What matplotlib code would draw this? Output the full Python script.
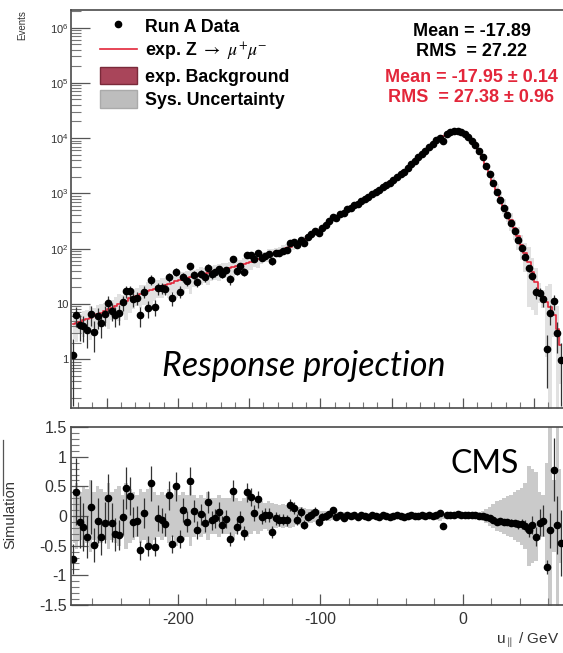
import numpy as np
import matplotlib
matplotlib.use("Agg")
import matplotlib.pyplot as plt
from matplotlib.lines import Line2D
from matplotlib.patches import Patch
from matplotlib.ticker import FixedLocator, FixedFormatter, MultipleLocator, LogLocator, NullFormatter

plt.rcParams['font.family'] = ['Liberation Sans', 'DejaVu Sans']
plt.rcParams['mathtext.fontset'] = 'stix'

# u_par bins: 2.5 GeV wide, from -275 to 70 GeV
bin_lo = -275.0
bin_w = 2.5

# expected Z->mumu (log10 of events per bin)
mc_log10 = [
    0.63, 0.65, 0.67, 0.70, 0.72, 0.75, 0.78, 0.81, 0.84, 0.87,
    0.90, 0.93, 0.96, 1.00, 1.03, 1.06, 1.10, 1.13, 1.15, 1.18,
    1.20, 1.23, 1.25, 1.27, 1.30, 1.32, 1.34, 1.36, 1.38, 1.41,
    1.43, 1.44, 1.46, 1.48, 1.49, 1.51, 1.53, 1.54, 1.56, 1.57,
    1.59, 1.60, 1.62, 1.63, 1.65, 1.66, 1.68, 1.70, 1.72, 1.74,
    1.76, 1.79, 1.81, 1.84, 1.86, 1.89, 1.91, 1.94, 1.96, 1.98,
    2.01, 2.03, 2.06, 2.10, 2.13, 2.17, 2.22, 2.25, 2.29, 2.33,
    2.38, 2.43, 2.48, 2.53, 2.57, 2.62, 2.66, 2.70, 2.74, 2.78,
    2.82, 2.86, 2.90, 2.94, 2.99, 3.03, 3.07, 3.11, 3.15, 3.20,
    3.25, 3.30, 3.35, 3.40, 3.46, 3.52, 3.58, 3.65, 3.71, 3.77,
    3.83, 3.89, 3.95, 3.99, 4.03, 4.07, 4.10, 4.12, 4.12, 4.10,
    4.07, 4.02, 3.95, 3.87, 3.77, 3.65, 3.50, 3.36, 3.21, 3.07,
    2.92, 2.78, 2.65, 2.52, 2.38, 2.23, 2.07, 1.92, 1.76, 1.58,
    1.40, 1.24, 1.12, 1.04, 0.95, 0.80, 0.55, 0.25,
]

# (data - simulation) / simulation
ratio = [
    -0.72, 0.41, -0.10, -0.19, -0.35, 0.15, -0.49, -0.08, -0.35, -0.11,
    0.31, -0.11, -0.31, -0.32, -0.01, 0.47, 0.34, -0.10, -0.08, -0.58,
    0.05, -0.50, 0.55, -0.52, -0.04, -0.07, -0.14, 0.35, -0.47, 0.50,
    -0.38, 0.10, -0.10, 0.59, 0.09, -0.23, 0.03, -0.11, 0.24, -0.07,
    -0.04, 0.07, -0.15, -0.05, -0.38, 0.43, -0.18, -0.05, -0.28, 0.40,
    0.32, 0.05, 0.28, -0.01, 0.02, 0.02, -0.27, -0.04, -0.07, -0.06,
    -0.07, 0.19, 0.13, -0.06, 0.07, -0.15, -0.01, 0.02, 0.07, -0.10,
    -0.01, 0.00, 0.03, 0.10, -0.02, 0.01, -0.03, 0.02, 0.00, 0.01,
    -0.02, 0.02, 0.00, -0.01, 0.01, 0.00, -0.01, 0.01, 0.00, -0.01,
    0.00, 0.01, 0.00, -0.01, 0.00, 0.01, 0.00, 0.00, 0.01, 0.00,
    0.01, 0.00, 0.02, 0.05, -0.16, 0.01, 0.02, 0.02, 0.03, 0.02,
    0.02, 0.02, 0.01, 0.01, 0.00, 0.00, -0.02, -0.04, -0.06, -0.10,
    -0.09, -0.10, -0.10, -0.11, -0.12, -0.14, -0.13, -0.16, -0.24, -0.15,
    -0.35, -0.11, -0.08, -0.86, -0.24, 0.78, -0.15, -0.45,
]

# relative systematic uncertainty (grey band)
sys_rel = [
    0.45, 0.55, 0.40, 0.50, 0.45, 0.60, 0.40, 0.50, 0.45, 0.40,
    0.55, 0.40, 0.45, 0.50, 0.35, 0.55, 0.45, 0.40, 0.35, 0.45,
    0.40, 0.45, 0.50, 0.40, 0.35, 0.40, 0.35, 0.45, 0.35, 0.50,
    0.35, 0.40, 0.35, 0.50, 0.35, 0.30, 0.35, 0.30, 0.40, 0.30,
    0.30, 0.35, 0.30, 0.30, 0.30, 0.40, 0.30, 0.25, 0.30, 0.35,
    0.30, 0.25, 0.30, 0.25, 0.22, 0.25, 0.22, 0.20, 0.18, 0.20,
    0.18, 0.20, 0.18, 0.15, 0.15, 0.13, 0.12, 0.12, 0.10, 0.10,
    0.09, 0.08, 0.08, 0.07, 0.07, 0.06, 0.06, 0.05, 0.05, 0.05,
    0.04, 0.04, 0.04, 0.04, 0.03, 0.03, 0.03, 0.03, 0.03, 0.03,
    0.03, 0.03, 0.03, 0.03, 0.03, 0.03, 0.03, 0.03, 0.03, 0.04,
    0.04, 0.04, 0.06, 0.08, 0.05, 0.04, 0.03, 0.03, 0.03, 0.03,
    0.03, 0.03, 0.04, 0.05, 0.06, 0.08, 0.12, 0.16, 0.20, 0.25,
    0.27, 0.30, 0.33, 0.36, 0.40, 0.44, 0.48, 0.55, 0.85, 0.80,
    0.75, 0.40, 0.35, 0.90, 1.6, 0.60, 1.6, 0.80,
]

stats_data = ["Mean = -17.89", "RMS  = 27.22"]
stats_mc = ["Mean = -17.95 \u00b1 0.14", "RMS  = 27.38 \u00b1 0.96"]

mc = 10 ** np.array(mc_log10)
r = np.array(ratio)
sysr = np.array(sys_rel)
x = bin_lo + bin_w * (np.arange(len(mc)) + 0.5)
data = mc * (1 + r)
err = np.sqrt(data)
err_lo = np.minimum(err, data - 0.14)
r_err = err / mc

red = '#e3263a'
grey = '#bdbdbd'
spine_c = '#4a4a4a'

fig = plt.figure(figsize=(5.63, 6.53), dpi=100)
ax1 = fig.add_axes([0.126, 0.375, 0.9494, 0.610])
ax2 = fig.add_axes([0.126, 0.0735, 0.9494, 0.2725])

# ---- upper panel
ax1.fill_between(x, np.clip(mc * (1 - sysr), 0.05, None), mc * (1 + sysr),
                 step='mid', color=grey, alpha=0.45, lw=0)
ax1.step(x, mc, where='mid', color=red, lw=1.2)
ax1.errorbar(x, data, yerr=[err_lo, err], fmt='o', color='black', ms=4.5,
             elinewidth=0.9, ecolor='#333333', capsize=0)
ax1.set_yscale('log')
ax1.set_xlim(-275, 100)
ax1.set_ylim(0.13, 2.1e6)
ax1.yaxis.set_major_locator(FixedLocator([1, 10, 1e2, 1e3, 1e4, 1e5, 1e6]))
ax1.yaxis.set_major_formatter(FixedFormatter(['1', '10', r'$\mathregular{10^{2}}$',
                                              r'$\mathregular{10^{3}}$', r'$\mathregular{10^{4}}$',
                                              r'$\mathregular{10^{5}}$', r'$\mathregular{10^{6}}$']))
ax1.yaxis.set_minor_locator(LogLocator(subs=np.arange(2, 10)))
ax1.yaxis.set_minor_formatter(NullFormatter())
ax1.xaxis.set_major_locator(MultipleLocator(50))
ax1.xaxis.set_minor_locator(MultipleLocator(10))
ax1.tick_params(axis='x', labelbottom=False)
ax1.tick_params(axis='y', labelsize=8, pad=2, colors='#333333')
ax1.tick_params(which='major', direction='in', length=14, width=0.9, color='#555555')
ax1.tick_params(which='minor', direction='in', length=7, width=0.8, color='#777777')
ax1.tick_params(axis='x', which='major', length=7)
ax1.tick_params(axis='x', which='minor', length=4)

handles = [
    Line2D([], [], marker='o', color='black', ls='none', ms=4.5),
    Line2D([], [], color=red, lw=1.2),
    Patch(facecolor='#a9455a', edgecolor='#7a2a3a', lw=1),
    Patch(facecolor='#bdbdbd', edgecolor='#aaaaaa', lw=1),
]
labels = ['Run A Data', r'exp. Z $\rightarrow$ $\mu^{+}\mu^{-}$',
          'exp. Background', 'Sys. Uncertainty']
ax1.legend(handles, labels, loc='upper left', bbox_to_anchor=(100 / 563, 1 - 17 / 653),
           bbox_transform=fig.transFigure, frameon=False, borderpad=0,
           borderaxespad=0, handlelength=2.08, handleheight=1.12,
           handletextpad=0.45, labelspacing=0.25,
           prop={'weight': 'bold', 'size': 12.8})

fig.text(472 / 563, 1 - 32 / 653, stats_data[0], ha='center', va='center',
         fontsize=13, fontweight='bold')
fig.text(472 / 563, 1 - 51 / 653, stats_data[1], ha='center', va='center',
         fontsize=13, fontweight='bold')
fig.text(471 / 563, 1 - 78 / 653, stats_mc[0], ha='center', va='center',
         fontsize=13, fontweight='bold', color=red)
fig.text(471 / 563, 1 - 98 / 653, stats_mc[1], ha='center', va='center',
         fontsize=13, fontweight='bold', color=red)

fig.text(22 / 563, 1 - 10 / 653, 'Events', rotation=90, ha='center', va='top',
         fontsize=7, color='#333333')
fig.text(304 / 563, 1 - 366 / 653, 'Response projection', ha='center', va='center',
         fontsize=24.5, style='italic', family=['Lato', 'DejaVu Sans'])

# ---- lower panel
ax2.fill_between(x, -sysr, sysr, step='mid', color=grey, alpha=0.8, lw=0)
ax2.errorbar(x, r, yerr=r_err, fmt='o', color='black', ms=4.5,
             elinewidth=0.9, ecolor='#333333', capsize=0)
ax2.set_xlim(-275, 100)
ax2.set_ylim(-1.5, 1.5)
ax2.yaxis.set_major_locator(FixedLocator([-1.5, -1, -0.5, 0, 0.5, 1, 1.5]))
ax2.yaxis.set_major_formatter(FixedFormatter(['-1.5', '-1', '-0.5', '0', '0.5', '1', '1.5']))
ax2.yaxis.set_minor_locator(MultipleLocator(0.1))
ax2.xaxis.set_major_locator(FixedLocator([-200, -100, 0]))
ax2.xaxis.set_major_formatter(FixedFormatter(['-200', '-100', '0']))
ax2.xaxis.set_minor_locator(MultipleLocator(20))
ax2.tick_params(labelsize=11.5, colors='#333333')
ax2.tick_params(which='major', direction='in', length=12, width=0.9, color='#555555')
ax2.tick_params(which='minor', direction='in', length=6, width=0.8, color='#777777')
ax2.tick_params(axis='x', which='major', length=8, pad=5)
ax2.tick_params(axis='x', which='minor', length=5)
ax2.tick_params(axis='y', pad=3)

fig.text(485 / 563, 1 - 464 / 653, 'CMS', ha='center', va='center', fontsize=23,
         family=['Lato', 'DejaVu Sans'])
fig.text(10 / 563, 1 - 515 / 653, 'Simulation', rotation=90, ha='center', va='center',
         fontsize=10.5, color='#333333')
fig.lines.append(Line2D([3 / 563, 3 / 563], [1 - 440 / 653, 1 - 495 / 653],
                        transform=fig.transFigure, color='#555555', lw=0.9))
fig.text(559 / 563, 1 - 640 / 653, r'u$_{\parallel}$ / GeV', ha='right', va='center',
         fontsize=11, color='#333333')

for ax in (ax1, ax2):
    for s in ax.spines.values():
        s.set_color(spine_c)
        s.set_linewidth(1.2)

fig.savefig('out.png', dpi=100)
